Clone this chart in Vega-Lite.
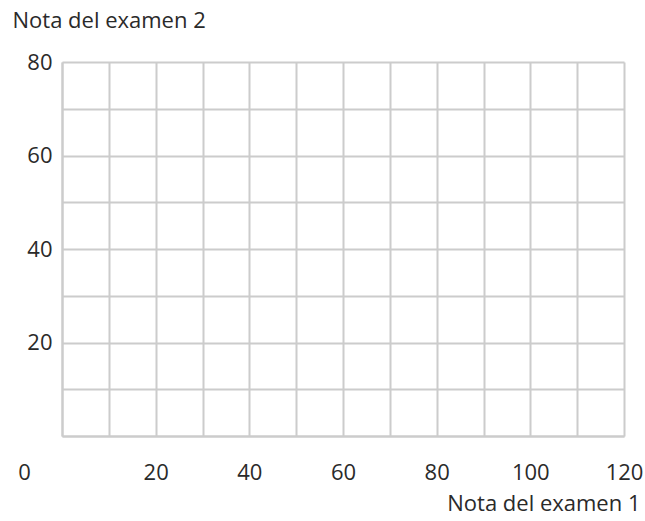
{
  "$schema": "https://vega.github.io/schema/vega-lite/v6.json",
  "autosize": "none",
  "padding": {"left": 62, "top": 62, "right": 21, "bottom": 85},
  "width": 562,
  "height": 374,
  "background": "white",
  "config": {
    "view": {"stroke": null},
    "font": "Open Sans",
    "axis": {
      "labelFont": "Open Sans",
      "titleFont": "Open Sans",
      "labelFontSize": 22,
      "titleFontSize": 22,
      "titleFontWeight": "normal",
      "labelColor": "#2a2a2a",
      "titleColor": "#2a2a2a",
      "gridColor": "#cccccc",
      "gridWidth": 2,
      "gridOpacity": 1,
      "domainColor": "#cccccc",
      "domainWidth": 2,
      "ticks": false
    }
  },
  "data": {"values": [{"examen1": 0, "examen2": 0}, {"examen1": 120, "examen2": 80}]},
  "mark": {"type": "point", "opacity": 0},
  "encoding": {
    "x": {
      "field": "examen1",
      "type": "quantitative",
      "scale": {"domain": [0, 120], "nice": false, "zero": true},
      "axis": {
        "values": [0, 10, 20, 30, 40, 50, 60, 70, 80, 90, 100, 110, 120],
        "labelExpr": "datum.value % 20 == 0 ? datum.label : ''",
        "labelOffset": {"condition": {"test": "datum.value == 0", "value": -38}, "value": 0},
        "labelFlush": false,
        "labelOverlap": false,
        "labelPadding": 36,
        "labelBaseline": "middle",
        "title": "Nota del examen 1",
        "titleAlign": "right",
        "titleAnchor": null,
        "titleX": 578,
        "titleY": 74,
        "titleBaseline": "alphabetic"
      }
    },
    "y": {
      "field": "examen2",
      "type": "quantitative",
      "scale": {"domain": [0, 80], "nice": false},
      "axis": {
        "values": [0, 10, 20, 30, 40, 50, 60, 70, 80],
        "labelExpr": "datum.value % 20 == 0 && datum.value > 0 ? datum.label : ''",
        "labelFlush": false,
        "labelOverlap": false,
        "labelPadding": 10,
        "title": "Nota del examen 2",
        "titleAngle": 0,
        "titleAlign": "left",
        "titleAnchor": null,
        "titleX": -50,
        "titleY": -35,
        "titleBaseline": "alphabetic"
      }
    }
  }
}
